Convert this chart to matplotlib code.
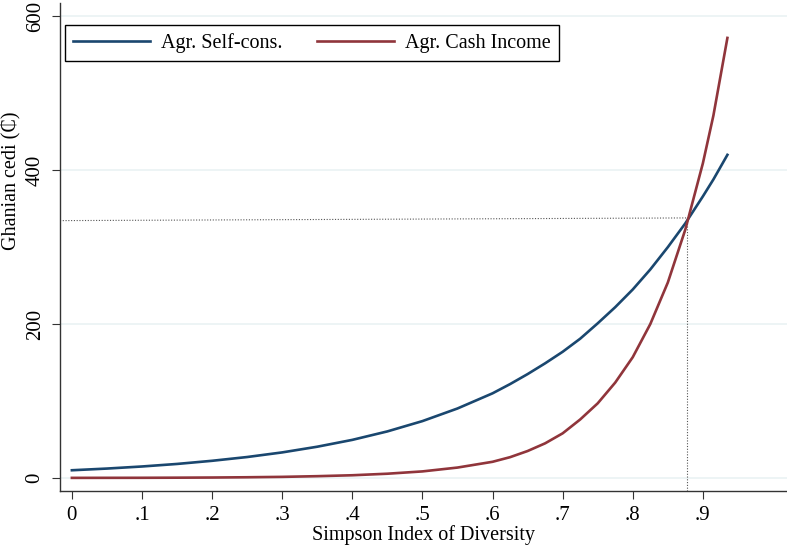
import numpy as np
import matplotlib.pyplot as plt

plt.rcParams['font.family'] = ['Liberation Serif', 'DejaVu Serif']

# values
simpson = [0, .05, .1, .15, .2, .25, .3, .35, .4, .45, .5, .55, .6, .625, .65,
           .675, .7, .725, .75, .775, .8, .825, .85, .875, .9, .915, .935]
self_cons = [10, 12.2, 14.9, 18.2, 22.3, 27.2, 33.2, 40.6, 49.5, 60.5, 73.9,
             90.3, 110, 122, 135, 149, 164, 181, 201, 222, 245, 271, 300,
             331, 366, 388, 420]
cash_income = [0.1, 0.15, 0.2, 0.35, 0.55, 0.9, 1.4, 2.3, 3.5, 5.5, 8.5,
               13.5, 21, 27, 35, 45, 58, 76, 97, 124, 157, 200, 254, 323, 409,
               471, 572]
cross_x = 0.877
cross_y = 338
ref_y_left = 334.5

yticks = [0, 200, 400, 600]
xticks = [0, .1, .2, .3, .4, .5, .6, .7, .8, .9]
xticklabels = ['0', '.1', '.2', '.3', '.4', '.5', '.6', '.7', '.8', '.9']

fig = plt.figure(figsize=(7.87, 5.49), dpi=100)
ax = fig.add_axes([0.0762, 0.1056, 0.9238, 0.8898])

xmin, xmax = -0.017, 1.02
ymin, ymax = -17, 618

for y in yticks:
    ax.axhline(y, color='#eaf2f3', lw=1.2, zorder=0)

ax.plot(simpson, self_cons, color='#1a476f', lw=1.9, label='Agr. Self-cons.',
        zorder=3, solid_joinstyle='round')
ax.plot(simpson, cash_income, color='#90353b', lw=1.9, label='Agr. Cash Income',
        zorder=3, solid_joinstyle='round')

# dotted guide lines to the crossing point
ax.plot([xmin, cross_x], [ref_y_left, cross_y], color='#555555', lw=0.8,
        ls=(0, (1, 1.5)), zorder=2)
ax.plot([cross_x, cross_x], [ymin, cross_y], color='#555555', lw=0.8,
        ls=(0, (1, 1.5)), zorder=2)

ax.set_xlim(xmin, xmax)
ax.set_ylim(ymin, ymax)
ax.set_xticks(xticks)
ax.set_xticklabels(xticklabels)
ax.set_yticks(yticks)
ax.set_yticklabels([str(v) for v in yticks], rotation=90, va='center')

for s in ['top', 'right']:
    ax.spines[s].set_visible(False)
for s in ['left', 'bottom']:
    ax.spines[s].set_color('#333333')
    ax.spines[s].set_linewidth(1.0)

ax.tick_params(axis='both', direction='out', length=6, width=0.8,
               color='#333333', labelsize=15, pad=5)

ax.set_xlabel('Simpson Index of Diversity', fontsize=14.5, labelpad=0)
ax.set_ylabel('Ghanian cedi (\u20b5)', fontsize=14.5)
ax.yaxis.set_label_coords(-0.053, 0.635)

leg = ax.legend(loc='upper left', ncol=2, fontsize=14.5, frameon=True, fancybox=False,
                edgecolor='black', framealpha=1, handlelength=3.8, handletextpad=0.55,
                columnspacing=1.75, borderpad=0.4, borderaxespad=0,
                bbox_to_anchor=(65 / 787, 1 - 25 / 549), bbox_transform=fig.transFigure)
leg.get_frame().set_linewidth(1.0)

fig.savefig('out.png', dpi=100)
